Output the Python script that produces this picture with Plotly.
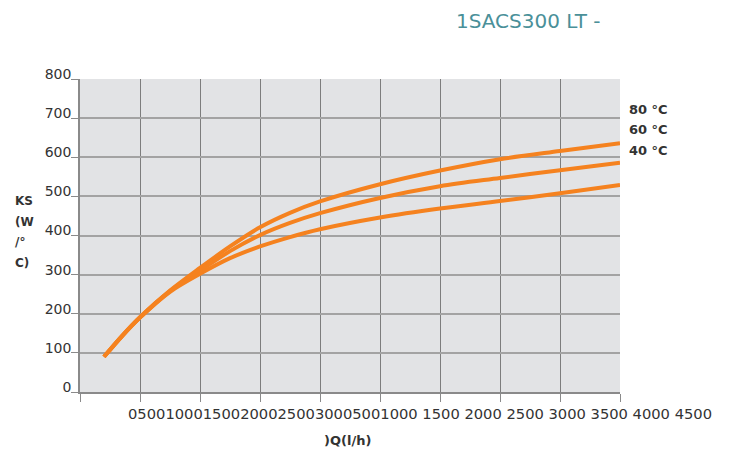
import plotly.graph_objects as go

# Data
flow_lh = [200, 350, 500, 750, 1000, 1250, 1500, 1750, 2000, 2500, 3000, 3500, 4000, 4500]
ks_80 = [90, 143, 191, 259, 317, 372, 421, 458, 487, 531, 566, 595, 616, 636]
ks_60 = [90, 143, 191, 258, 310, 360, 401, 432, 457, 496, 526, 547, 567, 586]
ks_40 = [90, 143, 190, 256, 302, 342, 372, 396, 416, 446, 469, 488, 508, 529]
series_names = ["80 °C", "60 °C", "40 °C"]
series_label_y = [109, 129, 150]  # pixel centres of right-hand labels

title_text = "1SACS300 LT -"
x_tick_text = ["0", "500", "1000", "1500", "2000", "2500", "3000", "500", "1000",
               " 1500", " 2000", " 2500", " 3000", " 3500", " 4000", " 4500"]
y_title_lines = ["KS", "(W", "/°", "C)"]
x_title = ")Q(l/h)"

W, H = 731, 453
L, R, T, B = 80, 111, 79, 61
PW = W - L - R
PH = H - T - B

def px_x(p):
    return (p - L) / PW

def px_y(p):
    return (H - B - p) / PH

orange = "#f5821f"
fig = go.Figure()
for ys, name in zip([ks_80, ks_60, ks_40], series_names):
    fig.add_trace(go.Scatter(x=flow_lh, y=ys, mode="lines", name=name,
                             line=dict(color=orange, width=4, shape="spline", smoothing=0.9),
                             showlegend=False, hoverinfo="skip"))

ann = []
ann.append(dict(text=title_text, x=px_x(454), y=px_y(21), xref="paper", yref="paper",
                xanchor="left", yanchor="middle", showarrow=False,
                font=dict(family="DejaVu Sans", size=20, color="#4a9099")))
for name, py in zip(series_names, series_label_y):
    ann.append(dict(text="<b>%s</b>" % name, x=px_x(627), y=px_y(py), xref="paper", yref="paper",
                    xanchor="left", yanchor="middle", showarrow=False,
                    font=dict(family="DejaVu Sans", size=13, color="#333333")))
for i, line in enumerate(y_title_lines):
    ann.append(dict(text="<b>%s</b>" % line, x=px_x(13), y=px_y(201 + i * 20.5), xref="paper", yref="paper",
                    xanchor="left", yanchor="middle", showarrow=False,
                    font=dict(family="DejaVu Sans", size=12, color="#333333")))
ann.append(dict(text="<b>%s</b>" % x_title, x=px_x(347), y=px_y(440), xref="paper", yref="paper",
                xanchor="center", yanchor="middle", showarrow=False,
                font=dict(family="DejaVu Sans", size=13, color="#333333")))
ann.append(dict(text="".join(x_tick_text), x=px_x(126), y=px_y(413), xref="paper", yref="paper",
                xanchor="left", yanchor="middle", showarrow=False,
                font=dict(family="DejaVu Sans", size=14.7, color="#333333")))

fig.update_layout(
    width=W, height=H,
    margin=dict(l=L, r=R, t=T, b=B, pad=0),
    paper_bgcolor="white",
    plot_bgcolor="#e2e3e5",
    annotations=ann,
    font=dict(family="DejaVu Sans", color="#333333"),
)
fig.update_xaxes(range=[0, 4500], dtick=500, tick0=0, showgrid=True, gridcolor="#7d7d7d", gridwidth=1.3,
                 showline=True, linecolor="#8a8a8a", linewidth=1.5, zeroline=False,
                 ticks="outside", ticklen=8, tickcolor="#8a8a8a", tickwidth=1.3,
                 showticklabels=False, fixedrange=True)
fig.update_yaxes(range=[0, 800], dtick=100, tick0=0, showgrid=True, gridcolor="#a3a3a3", gridwidth=1.5,
                 showline=True, linecolor="#8a8a8a", linewidth=1.5, zeroline=False,
                 ticks="outside", ticklen=7, tickcolor="#8a8a8a", tickwidth=1.3,
                 tickfont=dict(family="DejaVu Sans", size=14, color="#333333"),
                 ticklabelshift=-5, ticklabelstandoff=-3, fixedrange=True)

fig.write_html("out.html", config={"displayModeBar": False},
               post_script="document.body.style.margin='0';document.body.style.overflow='hidden';")
